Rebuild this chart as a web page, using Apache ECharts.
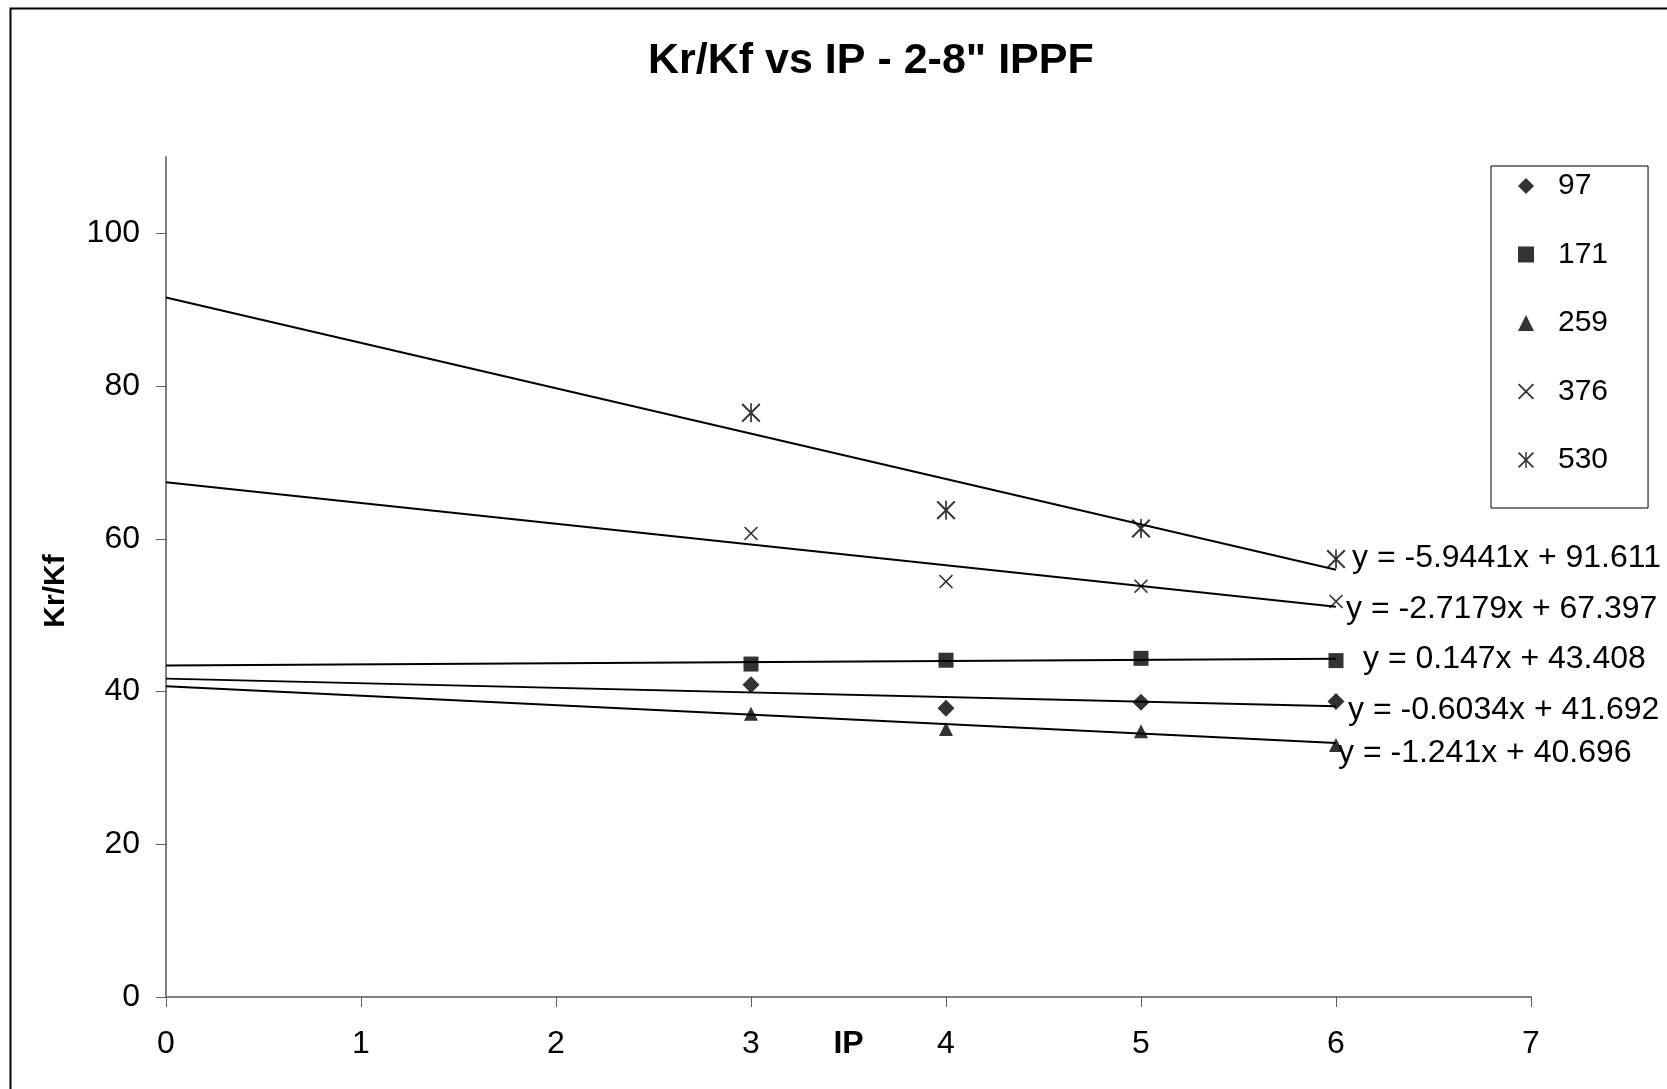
<!DOCTYPE html>
<html>
<head>
<meta charset="utf-8">
<script src="https://cdn.jsdelivr.net/npm/echarts@6/dist/echarts.min.js"></script>
<style>
html,body{margin:0;padding:0;background:#fff;}
#chart{width:1667px;height:1089px;}
</style>
</head>
<body>
<div id="chart"></div>
<script>
// ---- data ----
const seriesNames = ['97', '171', '259', '376', '530'];
const ipValues = [3, 4, 5, 6];
const s97  = [40.9, 37.8, 38.6, 38.7];
const s171 = [43.6, 44.1, 44.35, 44.05];
const s259 = [37.1, 35.1, 34.8, 33.0];
const s376 = [60.7, 54.4, 53.8, 51.8];
const s530 = [76.5, 63.75, 61.35, 57.35];
const trendSlopes     = [-0.6034, 0.147, -1.241, -2.7179, -5.9441];
const trendIntercepts = [41.692, 43.408, 40.696, 67.397, 91.611];
const trendLabels = ['y = -0.6034x + 41.692', 'y = 0.147x + 43.408', 'y = -1.241x + 40.696',
                     'y = -2.7179x + 67.397', 'y = -5.9441x + 91.611'];
const trendRange = [0, 6];
const xTicks = [0, 1, 2, 3, 4, 5, 6, 7];
const yTicks = [0, 20, 40, 60, 80, 100];

// ---- style ----
const FONT = "'Liberation Sans', Arial, sans-serif";
const crossPath = 'path://M0,1.6L1.6,0L10,8.4L18.4,0L20,1.6L11.6,10L20,18.4L18.4,20L10,11.6L1.6,20L0,18.4L8.4,10Z';
const starPath = 'path://M0,1.5L1.5,0L10,8.5L18.5,0L20,1.5L11.5,10L20,18.5L18.5,20L10,11.5L1.5,20L0,18.5L8.5,10Z M9.1,0L10.9,0L10.9,20L9.1,20Z';
const symbols = ['diamond', 'rect', 'triangle', crossPath, starPath];
const symbolSizes = [17, 15, 14, 14, 19];
const labelOffsets = [[12, 4], [27, 0], [2, 10], [10, 2], [16, -12]];
const allData = [s97, s171, s259, s376, s530];

const series = [];
allData.forEach((vals, i) => {
  series.push({
    name: seriesNames[i],
    type: 'scatter',
    symbol: symbols[i],
    symbolSize: symbolSizes[i],
    itemStyle: { color: '#000' },
    z: 3,
    data: ipValues.map((x, k) => [x, vals[k]])
  });
});
allData.forEach((vals, i) => {
  series.push({
    name: 'trend' + seriesNames[i],
    type: 'line',
    symbol: 'none',
    lineStyle: { color: '#000', width: 2 },
    z: 2,
    data: trendRange.map(x => [x, trendSlopes[i] * x + trendIntercepts[i]]),
    endLabel: {
      show: true,
      formatter: trendLabels[i],
      color: '#000',
      fontFamily: FONT,
      fontSize: 32,
      distance: 0,
      align: 'left',
      verticalAlign: 'middle',
      offset: labelOffsets[i]
    }
  });
});

const chart = echarts.init(document.getElementById('chart'), null, { renderer: 'canvas' });
chart.setOption({
  animation: false,
  backgroundColor: '#fff',
  title: {
    text: 'Kr/Kf vs IP - 2-8" IPPF',
    left: 643,
    top: 35,
    textStyle: { fontFamily: FONT, fontSize: 43, fontWeight: 'bold', color: '#000' }
  },
  graphic: [{
    type: 'rect',
    left: 8, top: 6,
    shape: { width: 1700, height: 1200 },
    style: { fill: 'none', stroke: '#000', lineWidth: 2 },
    silent: true
  }],
  legend: {
    data: seriesNames,
    orient: 'vertical',
    left: 1491,
    top: 166,
    itemWidth: 16,
    itemHeight: 16,
    itemGap: 38.5,
    padding: [5, 40, 33, 27],
    borderColor: '#000',
    borderWidth: 1,
    textStyle: { fontFamily: FONT, fontSize: 30, color: '#000', padding: [0, 0, 0, 19] }
  },
  grid: { left: 166, top: 157, right: 136, bottom: 92, outerBoundsMode: 'none' },
  xAxis: {
    type: 'value',
    min: 0, max: 7, interval: 1,
    name: 'IP',
    nameLocation: 'middle',
    nameGap: 31,
    nameMoveOverlap: false,
    nameTextStyle: { fontFamily: FONT, fontSize: 32, fontWeight: 'bold', color: '#000', verticalAlign: 'top' },
    splitLine: { show: false },
    axisLine: { lineStyle: { color: '#808080', width: 2 } },
    axisTick: { length: 10, lineStyle: { color: '#606060', width: 1 } },
    axisLabel: {
      margin: 31, fontFamily: FONT, fontSize: 32, color: '#000',
      customValues: xTicks
    }
  },
  yAxis: {
    type: 'value',
    min: 0, max: 110,
    name: 'Kr/Kf',
    nameLocation: 'middle',
    nameGap: 95,
    nameMoveOverlap: false,
    nameTextStyle: { fontFamily: FONT, fontSize: 30, fontWeight: 'bold', color: '#000', padding: [0, 28, 0, 0] },
    splitLine: { show: false },
    axisLine: { lineStyle: { color: '#808080', width: 2 } },
    axisTick: { length: 10, lineStyle: { color: '#606060', width: 1 }, customValues: yTicks },
    axisLabel: {
      margin: 26, fontFamily: FONT, fontSize: 32, color: '#000',
      customValues: yTicks
    }
  },
  series: series
});
</script>
</body>
</html>
